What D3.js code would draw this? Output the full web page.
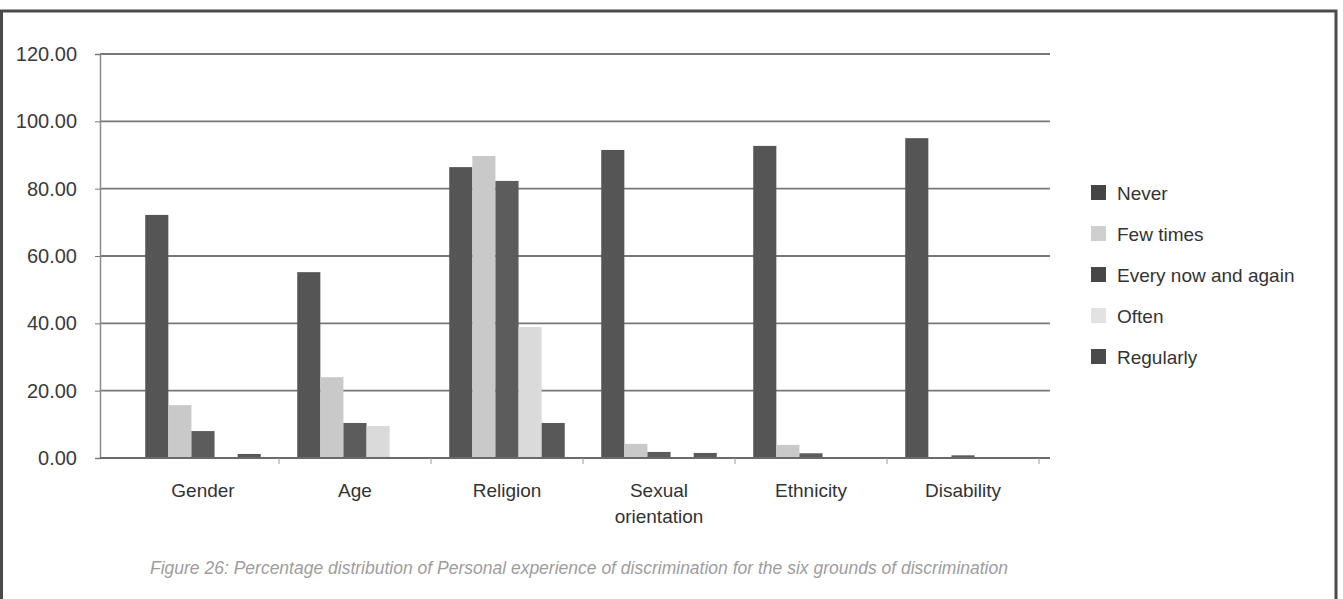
<!DOCTYPE html>
<html>
<head>
<meta charset="utf-8">
<script src="https://cdn.jsdelivr.net/npm/d3@7"></script>
<style>
  body { margin: 0; background: #fff; }
  svg { display: block; font-family: "Liberation Sans", Arial, sans-serif; }
</style>
</head>
<body>
<svg id="chart" width="1343" height="599"></svg>
<script>
// values (percent)
const categories = ["Gender", "Age", "Religion", "Sexual orientation", "Ethnicity", "Disability"]
const seriesNames = ["Never", "Few times", "Every now and again", "Often", "Regularly"]
const never = [72.2, 55.2, 86.4, 91.5, 92.7, 95.0]
const fewTimes = [15.7, 24.0, 89.7, 4.2, 3.9, 0.1]
const everyNowAndAgain = [8.0, 10.4, 82.3, 1.8, 1.4, 0.8]
const often = [0.3, 9.5, 38.9, 0.3, 0.2, 0.1]
const regularly = [1.2, 0.2, 10.4, 1.5, 0.2, 0.1]
const yTicks = [0, 20, 40, 60, 80, 100, 120]
const caption = "Figure 26: Percentage distribution of Personal experience of discrimination for the six grounds of discrimination"

const seriesValues = [never, fewTimes, everyNowAndAgain, often, regularly]
const barColors = ["#555555", "#c9c9c9", "#5c5c5c", "#dadada", "#585858"]
const legendColors = ["#454545", "#cfcfcf", "#474747", "#e2e2e2", "#4a4a4a"]

const svg = d3.select('#chart')

// page frame (scanned box)
svg.append("path")
  .attr("d", "M1.5,599 L1.5,11 L1336,11 L1336,599")
  .style("fill", "none")
  .style("stroke", "#4a4a4a")
  .style("stroke-width", 3)

const plotLeft = 100, plotRight = 1050, plotTop = 54, plotBottom = 458

const y = d3.scaleLinear().domain([0, 120]).range([plotBottom, plotTop])

const x = d3.scaleBand()
  .domain(categories)
  .range([127, 1039])
  .paddingInner(0.24)
  .paddingOuter(0.12)

const x1 = d3.scaleBand()
  .domain(seriesNames)
  .range([0, x.bandwidth()])

// gridlines
svg.append("g")
  .selectAll("line")
  .data(yTicks.filter(d => d > 0))
  .join("line")
  .attr("x1", plotLeft)
  .attr("x2", plotRight)
  .attr("y1", d => y(d))
  .attr("y2", d => y(d))
  .style("stroke", "#777")
  .style("stroke-width", 1.8)

// y axis
const yAxis = svg.append("g")
  .attr("transform", "translate(" + plotLeft + ",0)")
  .call(d3.axisLeft(y).tickValues(yTicks).tickFormat(d3.format(".2f")).tickSize(5).tickPadding(18))
yAxis.select(".domain").style("stroke", "#8a8a8a").style("stroke-width", 1.5)
yAxis.selectAll(".tick line").style("stroke", "#777")
yAxis.selectAll("text")
  .style("font-size", "20px")
  .style("fill", "#3a3a3a")

// bars, one group per ground of discrimination
const rows = categories.map((c, i) => ({ cat: c, vals: seriesValues.map((s, j) => ({ name: seriesNames[j], idx: j, v: s[i] })) }))

svg.append("g")
  .selectAll("g")
  .data(rows)
  .join("g")
    .attr("transform", d => "translate(" + x(d.cat) + ",0)")
  .selectAll("rect")
  .data(d => d.vals)
  .join("rect")
    .attr("x", d => x1(d.name))
    .attr("width", x1.bandwidth())
    .attr("y", d => y(d.v))
    .attr("height", d => y(0) - y(d.v))
    .style("fill", d => barColors[d.idx])

// x axis line with ticks at the band boundaries
svg.append("line")
  .attr("x1", plotLeft).attr("x2", plotRight)
  .attr("y1", plotBottom).attr("y2", plotBottom)
  .style("stroke", "#6a6a6a")
  .style("stroke-width", 1.8)

const step = x.step()
svg.append("g")
  .selectAll("line")
  .data(categories)
  .join("line")
  .attr("x1", d => x(d) - step * 0.12 + step)
  .attr("x2", d => x(d) - step * 0.12 + step)
  .attr("y1", plotBottom)
  .attr("y2", plotBottom + 6)
  .style("stroke", "#999")

// category labels (wrapped like the original)
svg.append("g")
  .selectAll("text")
  .data(categories)
  .join("text")
  .attr("x", d => x(d) + x.bandwidth() / 2)
  .attr("y", 497)
  .style("text-anchor", "middle")
  .style("font-size", "19px")
  .style("fill", "#333")
  .each(function(d) {
    const words = d === "Sexual orientation" ? ["Sexual", "orientation"] : [d]
    d3.select(this).selectAll("tspan")
      .data(words)
      .join("tspan")
      .attr("x", x(d) + x.bandwidth() / 2)
      .attr("dy", (w, i) => i === 0 ? 0 : 26)
      .text(w => w)
  })

// legend
const legend = svg.append("g")
  .selectAll("g")
  .data(seriesNames)
  .join("g")
  .attr("transform", (d, i) => "translate(1091," + (193 + i * 41) + ")")
legend.append("rect")
  .attr("x", 0).attr("y", -8)
  .attr("width", 15).attr("height", 15)
  .style("fill", (d, i) => legendColors[i])
legend.append("text")
  .attr("x", 26)
  .attr("y", 7)
  .style("font-size", "19px")
  .style("fill", "#333")
  .text(d => d)

// caption
svg.append("text")
  .attr("x", 150)
  .attr("y", 574)
  .style("font-size", "17.5px")
  .style("font-style", "italic")
  .style("fill", "#9d9d9d")
  .text(caption)
</script>
</body>
</html>
